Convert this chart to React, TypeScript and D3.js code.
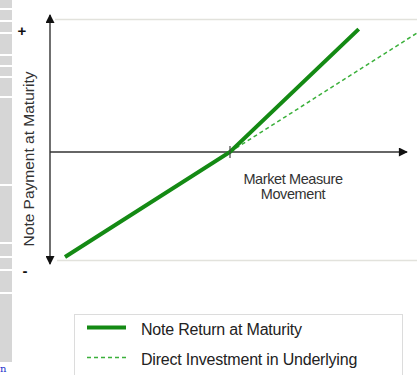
import React from "react";
import * as d3 from "d3";

// market movement (%) vs payment (%)
const noteMove = [-100, 0, 78];
const notePay = [-100, 0, 117];
const directMove = [0, 116];
const directPay = [0, 116];
const seriesNames = ["Note Return at Maturity", "Direct Investment in Underlying"];
const xAxisTitle = ["Market Measure", "Movement"];
const yAxisTitle = "Note Payment at Maturity";
const sideCells = [
  [0, 8], [10, 20], [22, 32], [34, 54], [56, 65], [67, 76], [78, 96],
  [98, 184], [186, 242], [244, 256], [258, 269], [271, 292], [294, 362],
];

const W = 417;
const H = 375;
const solidGreen = "#148a14";
const dashGreen = "#3bb03b";
const font = "Arial, 'Liberation Sans', sans-serif";

export default function App() {
  const ref = React.useRef<SVGSVGElement>(null);

  React.useEffect(() => {
    const svg = d3.select(ref.current);
    svg.selectAll("*").remove();

    const x = d3.scaleLinear().domain([-100, 100]).range([65, 395]);
    const y = d3.scaleLinear().domain([-100, 100]).range([257, 47]);
    const axisX = 50;

    // left grey strip
    svg
      .append("g")
      .selectAll("rect")
      .data(sideCells)
      .enter()
      .append("rect")
      .attr("x", 0)
      .attr("y", d => d[0])
      .attr("width", 12)
      .attr("height", d => d[1] - d[0])
      .attr("fill", "#d6d6d6");
    svg
      .append("text")
      .attr("x", 0)
      .attr("y", 372)
      .attr("fill", "#2233cc")
      .style("font-family", "'DejaVu Serif', serif")
      .style("font-size", "10px")
      .text("n");

    // faint frame lines
    svg.append("line").attr("x1", 55).attr("x2", W).attr("y1", 19.5).attr("y2", 19.5)
      .attr("stroke", "#e2e2dc").attr("stroke-width", 1.5);
    svg.append("line").attr("x1", 57).attr("x2", W).attr("y1", 260.5).attr("y2", 260.5)
      .attr("stroke", "#e2e2dc").attr("stroke-width", 1.5);

    // axes
    const defs = svg.append("defs");
    defs
      .append("marker")
      .attr("id", "arr")
      .attr("viewBox", "0 0 10 10")
      .attr("refX", 9)
      .attr("refY", 5)
      .attr("markerWidth", 10)
      .attr("markerHeight", 9)
      .attr("markerUnits", "userSpaceOnUse")
      .attr("orient", "auto-start-reverse")
      .append("path")
      .attr("d", "M0,0L10,5L0,10Z")
      .attr("fill", "#111");

    svg.append("line").attr("x1", axisX).attr("x2", axisX).attr("y1", 15).attr("y2", 264)
      .attr("stroke", "#222").attr("stroke-width", 1.3)
      .attr("marker-start", "url(#arr)").attr("marker-end", "url(#arr)");
    svg.append("line").attr("x1", axisX).attr("x2", 407).attr("y1", y(0)).attr("y2", y(0))
      .attr("stroke", "#333").attr("stroke-width", 1.3)
      .attr("marker-end", "url(#arr)");

    const line = d3.line<[number, number]>().x(d => x(d[0])).y(d => y(d[1]));

    svg.append("path")
      .datum(directMove.map((m, i) => [m, directPay[i]] as [number, number]))
      .attr("d", line)
      .attr("fill", "none")
      .attr("stroke", dashGreen)
      .attr("stroke-width", 1.5)
      .attr("stroke-dasharray", "4,3");

    svg.append("path")
      .datum(noteMove.map((m, i) => [m, notePay[i]] as [number, number]))
      .attr("d", line)
      .attr("fill", "none")
      .attr("stroke", solidGreen)
      .attr("stroke-width", 4);

    // tick at origin
    svg.append("line").attr("x1", x(0)).attr("x2", x(0)).attr("y1", y(0) - 6).attr("y2", y(0) + 6)
      .attr("stroke", "#444").attr("stroke-width", 1.2);

    // +/- labels
    svg.append("text").attr("x", 22).attr("y", 36).attr("text-anchor", "middle")
      .style("font-family", font).style("font-size", "15px").style("font-weight", "bold")
      .attr("fill", "#111").text("+");
    svg.append("text").attr("x", 25).attr("y", 276).attr("text-anchor", "middle")
      .style("font-family", font).style("font-size", "15px").style("font-weight", "bold")
      .attr("fill", "#111").text("-");

    // y axis title
    svg.append("text")
      .attr("transform", `translate(34,159) rotate(-90)`)
      .attr("text-anchor", "middle")
      .style("font-family", font)
      .style("font-size", "15.5px")
      .attr("fill", "#333")
      .text(yAxisTitle);

    // x axis title
    svg.append("g")
      .selectAll("text")
      .data(xAxisTitle)
      .enter()
      .append("text")
      .attr("x", 293)
      .attr("y", (d, i) => 184 + i * 15)
      .attr("text-anchor", "middle")
      .style("font-family", font)
      .style("font-size", "14.5px")
      .style("letter-spacing", "-0.4px")
      .attr("fill", "#333")
      .text(d => d);

    // legend
    const lg = svg.append("g");
    lg.append("rect").attr("x", 74.5).attr("y", 314.5).attr("width", 328).attr("height", 70)
      .attr("fill", "#fff").attr("stroke", "#dcdcdc").attr("stroke-width", 1);
    const rows = lg.selectAll("g.row")
      .data(seriesNames)
      .enter()
      .append("g")
      .attr("class", "row")
      .attr("transform", (d, i) => `translate(0, ${327.5 + i * 30})`);
    rows.append("line")
      .attr("x1", 87).attr("x2", 126).attr("y1", 0).attr("y2", 0)
      .attr("stroke", (d, i) => (i === 0 ? solidGreen : dashGreen))
      .attr("stroke-width", (d, i) => (i === 0 ? 4 : 1.5))
      .attr("stroke-dasharray", (d, i) => (i === 0 ? null : "4,3"));
    rows.append("text")
      .attr("x", 141).attr("y", 7)
      .style("font-family", font)
      .style("font-size", "16px")
      .style("letter-spacing", "-0.2px")
      .attr("fill", "#222")
      .text(d => d);
  }, []);

  return (
    <svg
      ref={ref}
      width={W}
      height={H}
      style={{ position: "absolute", left: 0, top: 0, background: "#fff" }}
    />
  );
}
